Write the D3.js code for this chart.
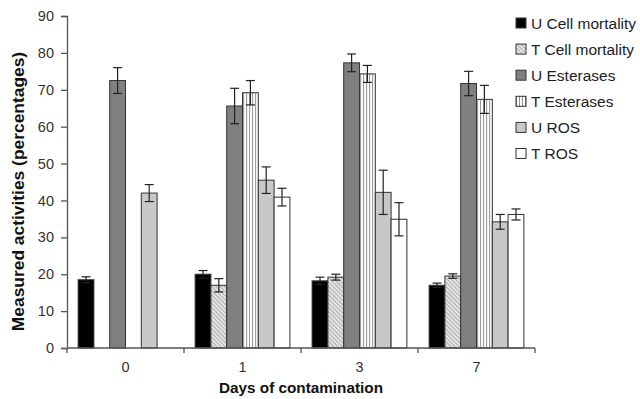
<!DOCTYPE html>
<html>
<head>
<meta charset="utf-8">
<script src="https://cdn.jsdelivr.net/npm/d3@7"></script>
<style>
  body { margin: 0; background: #fff; }
  svg { display: block; font-family: "Liberation Sans", Arial, sans-serif; }
</style>
</head>
<body>
<svg id="chart" width="640" height="399"></svg>
<script>
// data
var days = ['0', '1', '3', '7'];
var seriesNames = ['U Cell mortality', 'T Cell mortality', 'U Esterases', 'T Esterases', 'U ROS', 'T ROS'];
// null = not measured on that day
var uCell = [18.5, 20.0, 18.2, 17.0];
var tCell = [null, 17.0, 19.2, 19.5];
var uEst = [72.5, 65.6, 77.3, 71.7];
var tEst = [null, 69.2, 74.3, 67.4];
var uRos = [42.0, 45.5, 42.2, 34.2];
var tRos = [null, 40.9, 34.9, 36.2];
var uCellErr = [0.8, 1.0, 1.0, 0.6];
var tCellErr = [null, 1.8, 0.8, 0.6];
var uEstErr = [3.5, 4.8, 2.4, 3.3];
var tEstErr = [null, 3.3, 2.3, 3.8];
var uRosErr = [2.3, 3.6, 6.0, 2.0];
var tRosErr = [null, 2.4, 4.5, 1.5];
var yTicks = [0, 10, 20, 30, 40, 50, 60, 70, 80, 90];

var values = [uCell, tCell, uEst, tEst, uRos, tRos];
var errors = [uCellErr, tCellErr, uEstErr, tEstErr, uRosErr, tRosErr];

var margin = { top: 16, right: 105, bottom: 51, left: 67 };
var svg = d3.select('#chart');
var width = 640 - margin.left - margin.right;
var height = 399 - margin.top - margin.bottom;

var defs = svg.append('defs');
var diag = defs.append('pattern')
    .attr('id', 'diag')
    .attr('patternUnits', 'userSpaceOnUse')
    .attr('width', 3).attr('height', 3)
    .attr('patternTransform', 'rotate(-45)');
diag.append('rect').attr('width', 3).attr('height', 3).attr('fill', '#e4e4e4');
diag.append('line').attr('x1', 0).attr('y1', 0).attr('x2', 0).attr('y2', 3)
    .attr('stroke', '#8a8a8a').attr('stroke-width', 1.2);
var vert = defs.append('pattern')
    .attr('id', 'vert')
    .attr('patternUnits', 'userSpaceOnUse')
    .attr('width', 3).attr('height', 6);
vert.append('rect').attr('width', 3).attr('height', 6).attr('fill', '#fff');
vert.append('rect').attr('x', 0).attr('width', 1).attr('height', 6).attr('fill', '#909090');

var fills = ['#000', 'url(#diag)', '#808080', 'url(#vert)', '#c8c8c8', '#fff'];

var g = svg.append('g').attr('transform', 'translate(' + margin.left + ',' + margin.top + ')');

var x0 = d3.scaleBand().domain(days).range([0, width]).paddingInner(0.19).paddingOuter(0.095);
var x1 = d3.scaleBand().domain(d3.range(seriesNames.length)).range([0, x0.bandwidth()]);
var y = d3.scaleLinear().domain([0, 90]).range([height, 0]);

// bars
days.forEach(function (day, i) {
    var grp = g.append('g').attr('transform', 'translate(' + x0(day) + ',0)');
    values.forEach(function (vals, s) {
        var v = vals[i];
        if (v === null) return;
        grp.append('rect')
            .attr('x', x1(s))
            .attr('y', y(v))
            .attr('width', x1.bandwidth())
            .attr('height', height - y(v))
            .attr('fill', fills[s])
            .attr('stroke', '#333')
            .attr('stroke-width', 1);
        var e = errors[s][i];
        var cx = x1(s) + x1.bandwidth() / 2;
        var eb = grp.append('g').attr('stroke', '#222').attr('stroke-width', 1.2);
        eb.append('line').attr('x1', cx).attr('x2', cx).attr('y1', y(v + e)).attr('y2', y(v - e));
        eb.append('line').attr('x1', cx - 4.5).attr('x2', cx + 4.5).attr('y1', y(v + e)).attr('y2', y(v + e));
        eb.append('line').attr('x1', cx - 4.5).attr('x2', cx + 4.5).attr('y1', y(v - e)).attr('y2', y(v - e));
    });
});

// y axis
var yAxis = g.append('g')
    .call(d3.axisLeft(y).tickValues(yTicks).tickSize(6).tickPadding(7));
yAxis.selectAll('path, line').attr('stroke', '#555').attr('stroke-width', 1.3);
yAxis.selectAll('text').attr('font-size', 14.5).attr('fill', '#333').style('font-family', 'Liberation Sans, Arial, sans-serif');

// x axis: ticks sit on the category boundaries
var xAxis = g.append('g').attr('transform', 'translate(0,' + height + ')');
xAxis.append('line').attr('x1', 0).attr('x2', width).attr('stroke', '#555').attr('stroke-width', 1.3);
var step = width / days.length;
d3.range(days.length + 1).forEach(function (k) {
    xAxis.append('line').attr('x1', k * step).attr('x2', k * step).attr('y1', 0).attr('y2', 5)
        .attr('stroke', '#555').attr('stroke-width', 1.3);
});
days.forEach(function (day) {
    xAxis.append('text')
        .attr('x', x0(day) + x0.bandwidth() / 2)
        .attr('y', 24)
        .attr('text-anchor', 'middle')
        .attr('font-size', 14.5)
        .attr('fill', '#333')
        .text(day);
});

// axis titles
svg.append('text')
    .attr('x', 301)
    .attr('y', 393)
    .attr('text-anchor', 'middle')
    .attr('font-size', 15.3)
    .attr('font-weight', 'bold')
    .attr('fill', '#111')
    .text('Days of contamination');
svg.append('text')
    .attr('transform', 'translate(24,191.5) rotate(-90)')
    .attr('text-anchor', 'middle')
    .attr('font-size', 17.4)
    .attr('font-weight', 'bold')
    .attr('fill', '#111')
    .text('Measured activities (percentages)');

// legend
var legend = svg.append('g').attr('transform', 'translate(516,18)');
seriesNames.forEach(function (name, s) {
    var row = legend.append('g').attr('transform', 'translate(0,' + (s * 26.1) + ')');
    row.append('rect').attr('width', 10).attr('height', 10)
        .attr('fill', fills[s]).attr('stroke', '#333').attr('stroke-width', 1);
    row.append('text').attr('x', 15).attr('y', 10.5)
        .attr('font-size', 15.5).attr('fill', '#222').text(name);
});
</script>
</body>
</html>
